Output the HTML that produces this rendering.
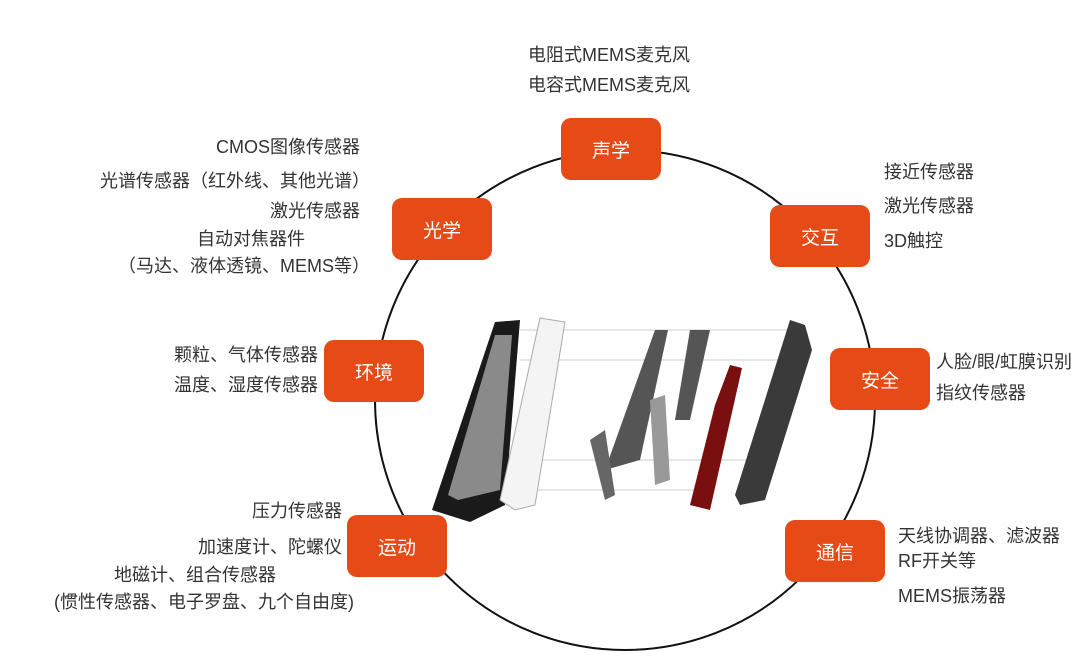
<!DOCTYPE html>
<html><head><meta charset="utf-8"><style>
body{margin:0;width:1080px;height:656px;background:#fff;position:relative;overflow:hidden;font-family:"Liberation Sans","Noto Sans CJK SC",sans-serif;}
.b{position:absolute;width:100px;height:62px;background:#e54a17;border-radius:10px;color:#fff;font-size:19px;display:flex;align-items:center;justify-content:center;}
.t{position:absolute;color:#333;font-size:18px;line-height:30px;white-space:nowrap;}
.r{text-align:right;}
</style></head><body>
<svg width="1080" height="656" style="position:absolute;left:0;top:0">
<circle cx="625" cy="400" r="250" fill="none" stroke="#111" stroke-width="2"/>
<g stroke="#ccc" stroke-width="1"><line x1="520" y1="330" x2="790" y2="330"/><line x1="520" y1="360" x2="790" y2="360"/><line x1="540" y1="460" x2="760" y2="460"/><line x1="520" y1="490" x2="700" y2="490"/></g>
<polygon points="495,322 520,320 505,505 470,522 432,510" fill="#1a1a1a"/>
<polygon points="495,335 512,335 500,490 458,500 448,495" fill="#8a8a8a"/>
<polygon points="540,318 565,322 535,505 515,510 500,500" fill="#f4f4f4" stroke="#aaa"/>
<polygon points="655,330 668,330 640,460 605,470" fill="#555"/>
<polygon points="590,440 605,430 615,495 605,500" fill="#666"/>
<polygon points="690,330 710,330 690,420 675,420" fill="#555"/>
<polygon points="650,400 665,395 670,480 655,485" fill="#999"/>
<polygon points="730,365 742,368 710,510 690,505 715,405" fill="#7a0f0f"/>
<polygon points="790,320 805,325 812,350 765,500 740,505 735,495" fill="#3a3a3a"/>
</svg>
<div class="b" style="left:561px;top:118px">声学</div>
<div class="b" style="left:392px;top:198px">光学</div>
<div class="b" style="left:770px;top:205px">交互</div>
<div class="b" style="left:324px;top:340px">环境</div>
<div class="b" style="left:830px;top:348px">安全</div>
<div class="b" style="left:347px;top:515px">运动</div>
<div class="b" style="left:785px;top:520px">通信</div>
<div class="t" style="left:528px;top:40px">电阻式MEMS麦克风<br>电容式MEMS麦克风</div>
<div class="t r" style="right:720px;top:132px">CMOS图像传感器</div>
<div class="t r" style="right:710px;top:166px">光谱传感器（红外线、其他光谱）</div>
<div class="t r" style="right:720px;top:196px">激光传感器</div>
<div class="t r" style="right:775px;top:224px">自动对焦器件</div>
<div class="t r" style="right:710px;top:251px">（马达、液体透镜、MEMS等）</div>
<div class="t" style="left:884px;top:157px">接近传感器</div>
<div class="t" style="left:884px;top:191px">激光传感器</div>
<div class="t" style="left:884px;top:226px">3D触控</div>
<div class="t r" style="right:762px;top:340px">颗粒、气体传感器</div>
<div class="t r" style="right:762px;top:370px">温度、湿度传感器</div>
<div class="t" style="left:936px;top:347px">人脸/眼/虹膜识别</div>
<div class="t" style="left:936px;top:378px">指纹传感器</div>
<div class="t r" style="right:738px;top:496px">压力传感器</div>
<div class="t r" style="right:738px;top:532px">加速度计、陀螺仪</div>
<div class="t r" style="right:804px;top:560px">地磁计、组合传感器</div>
<div class="t r" style="right:726px;top:587px">(惯性传感器、电子罗盘、九个自由度)</div>
<div class="t" style="left:898px;top:521px">天线协调器、滤波器</div>
<div class="t" style="left:898px;top:546px">RF开关等</div>
<div class="t" style="left:898px;top:581px">MEMS振荡器</div>
</body></html>
